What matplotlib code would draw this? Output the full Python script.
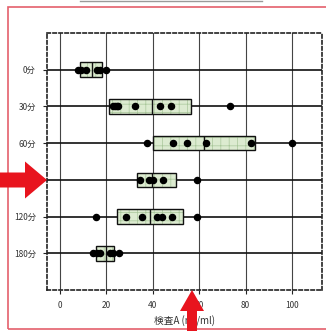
import matplotlib
matplotlib.use("Agg")
import matplotlib.pyplot as plt
from matplotlib.patches import Rectangle, FancyArrow
from matplotlib.lines import Line2D

plt.rcParams['font.family'] = ['Noto Sans CJK JP', 'DejaVu Sans']
plt.rcParams['hatch.linewidth'] = 0.5

# Sampling times and their measured values
times = ["0分", "30分", "60分", "90分", "120分", "180分"]
q1 = [8.6, 21.3, 39.9, 33.0, 24.4, 15.5]
medians = [13.7, 39.5, 62.0, 39.5, 38.8, 19.8]
q3 = [18.0, 56.5, 84.0, 50.0, 52.9, 23.4]
values = [
    [7.8, 9.2, 11.0, 15.8, 17.2, 20.0],
    [22.8, 23.6, 24.4, 25.2, 32.3, 43.0, 47.7, 73.3],
    [37.4, 48.6, 54.9, 62.8, 82.2, 99.9],
    [34.5, 38.3, 40.0, 44.5, 59.0],
    [15.4, 28.4, 35.2, 41.7, 44.0, 48.1, 59.2],
    [14.1, 15.8, 17.2, 21.6, 22.8, 25.6],
]
x_ticks = [0, 20, 40, 60, 80, 100]
x_label = "検査A (ng/ml)"

W, H = 326, 331
fig = plt.figure(figsize=(W / 100, H / 100), dpi=100)
fig.patch.set_facecolor("white")

def fx(px):
    return px / W

def fy(py):
    return 1 - py / H

ax = fig.add_axes([fx(47), fy(290), fx(322) - fx(47), fy(33) - fy(290)])
ax.set_xlim(-5.6, 112.9)
ax.set_ylim(6.0, -1.0)

# grid lines
for xv in x_ticks:
    ax.axvline(xv, color="#444444", lw=0.8, zorder=1)
for i in range(len(times)):
    ax.axhline(i, color="#111111", lw=1.2, zorder=1)

positions = list(range(len(times)))
stats = [dict(med=m, q1=a, q3=b, whislo=a, whishi=b, fliers=[])
         for a, m, b in zip(q1, medians, q3)]

# hatched green fill
fill = ax.bxp(stats, positions=positions, orientation="horizontal",
              widths=0.4, patch_artist=True, showcaps=False,
              showfliers=False, manage_ticks=False,
              boxprops=dict(facecolor="#dcebd0", edgecolor="#a9c79a",
                            hatch="++", lw=0),
              medianprops=dict(lw=0), whiskerprops=dict(lw=0))
for b in fill["boxes"]:
    b.set_zorder(2)

# black outline and median
outline = ax.bxp(stats, positions=positions, orientation="horizontal",
                 widths=0.4, patch_artist=True, showcaps=False,
                 showfliers=False, manage_ticks=False,
                 boxprops=dict(facecolor="none", edgecolor="#111111", lw=1.0),
                 medianprops=dict(color="#111111", lw=1.0),
                 whiskerprops=dict(lw=0))
for b in outline["boxes"]:
    b.set_zorder(3)
for m in outline["medians"]:
    m.set_zorder(3)

# individual measurements
for i, vals in enumerate(values):
    ax.plot(vals, [i] * len(vals), "o", color="black", ms=4.4,
            zorder=4, clip_on=False)

ax.set_xticks(x_ticks)
ax.set_xticklabels([str(v) for v in x_ticks], fontsize=6, color="#333333")
ax.set_yticks(positions)
ax.set_yticklabels(times, fontsize=6, color="#333333")
ax.tick_params(axis="both", length=3, width=0.8, color="#222222", pad=5)
ax.set_xlabel(x_label, fontsize=7, color="#333333", labelpad=4)

for s in ax.spines.values():
    s.set_linestyle((0, (2.0, 1.6)))
    s.set_linewidth(1.2)
    s.set_color("#222222")

# surrounding frame
fig.add_artist(Rectangle((fx(8), fy(329)), fx(340) - fx(8), fy(7) - fy(329),
                         transform=fig.transFigure, fill=False,
                         edgecolor="#e4606c", lw=1.2, zorder=0))
fig.add_artist(Line2D([fx(80), fx(262)], [fy(0.8), fy(0.8)],
                      transform=fig.transFigure, color="#9a9a9a", lw=1.0))

# red pointers
fig.add_artist(FancyArrow(fx(0), fy(180), fx(47) - fx(0), 0,
                          width=(fy(170) - fy(185)) * 1,
                          head_width=fy(160) - fy(197),
                          head_length=fx(22),
                          length_includes_head=True,
                          transform=fig.transFigure,
                          color="#e8141e", lw=0, zorder=10))
fig.add_artist(FancyArrow(fx(192), fy(335), 0, fy(290) - fy(335),
                          width=fx(10),
                          head_width=fx(24),
                          head_length=fy(290) - fy(311),
                          length_includes_head=True,
                          transform=fig.transFigure,
                          color="#e8141e", lw=0, zorder=10))

fig.savefig("out.png", dpi=100)
